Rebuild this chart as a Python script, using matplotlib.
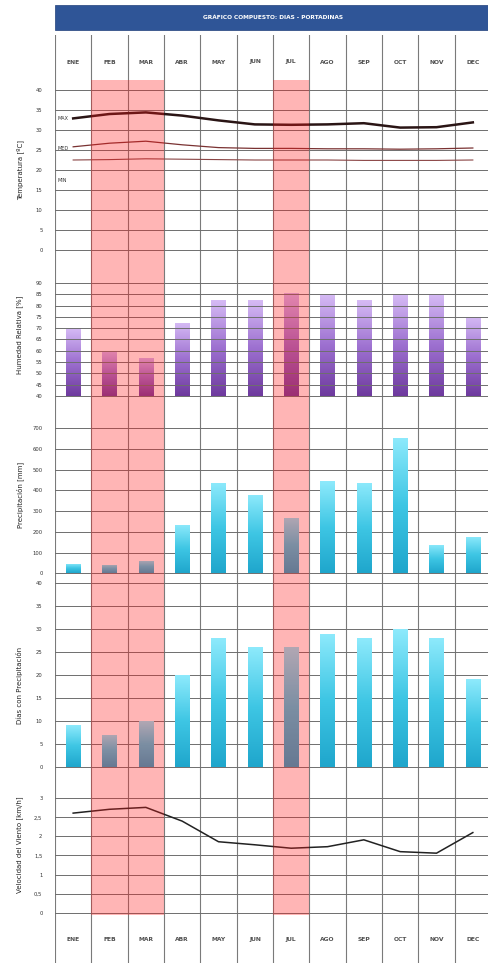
import numpy as np
import matplotlib
matplotlib.use("Agg")
import matplotlib.pyplot as plt
from matplotlib.colors import LinearSegmentedColormap
from matplotlib.patches import Rectangle
from matplotlib.ticker import FuncFormatter

# ---------------- data ----------------
months = ["ENE", "FEB", "MAR", "ABR", "MAY", "JUN", "JUL", "AGO", "SEP", "OCT", "NOV", "DEC"]
temp_max = [32.9, 34.0, 34.4, 33.6, 32.4, 31.4, 31.3, 31.4, 31.7, 30.6, 30.7, 31.9]
temp_med = [25.8, 26.7, 27.2, 26.3, 25.6, 25.4, 25.4, 25.3, 25.3, 25.2, 25.3, 25.5]
temp_min = [22.5, 22.6, 22.8, 22.7, 22.6, 22.5, 22.5, 22.5, 22.4, 22.4, 22.4, 22.5]
humidity = [70, 60, 57, 72.5, 82.5, 82.5, 85.5, 85, 82.5, 85, 85, 75]
precip = [45, 40, 61, 233, 435, 378, 266, 443, 435, 652, 137, 177]
rain_days = [9, 7, 10, 20, 28, 26, 26, 29, 28, 30, 28, 19]
wind = [2.61, 2.71, 2.76, 2.4, 1.86, 1.78, 1.69, 1.73, 1.91, 1.6, 1.56, 2.1]
highlight = ["FEB", "MAR", "JUL"]
title = "GRÁFICO COMPUESTO: DIAS - PORTADINAS"

W, H = 488, 963
fig = plt.figure(figsize=(W / 100, H / 100), dpi=100)
fig.patch.set_facecolor("white")

X0, X1 = 55, 491  # pixel extent of the 12 columns


def fa(y_top, y_bot, x0=X0, x1=X1):
    return [x0 / W, 1 - y_bot / H, (x1 - x0) / W, (y_bot - y_top) / H]


n = len(months)
xc = np.arange(n) + 0.5

# background axis: vertical column lines
bg = fig.add_axes(fa(35, 963), zorder=0)
bg.set_xlim(0, n)
bg.set_ylim(0, 1)
bg.axis("off")
for i in range(n + 1):
    bg.axvline(i, color="#7a7a7a", lw=0.8)

# title bar
fig.patches.append(Rectangle((55 / W, 1 - 30 / H), (W - 55) / W, 25 / H,
                             transform=fig.transFigure, facecolor="#2F5597",
                             edgecolor="#1f3f7a", lw=0.5, zorder=1))
fig.text((55 + 491) / 2 / W, 1 - 17.5 / H, title, color="white", fontsize=4.2,
         fontweight="bold", ha="center", va="center", zorder=2)

# month rows
for ytxt in (62, 939):
    for i, m in enumerate(months):
        fig.text((X0 + (i + 0.5) * (X1 - X0) / n) / W, 1 - ytxt / H, m,
                 fontsize=4.3, fontweight="bold", color="#505050",
                 ha="center", va="center")

grid_kw = dict(color="#6e6e6e", lw=0.7)


def setup(ax, ylim, ticks, fmt=None):
    ax.set_xlim(0, n)
    ax.set_ylim(*ylim)
    ax.set_facecolor("none")
    for s in ax.spines.values():
        s.set_visible(False)
    ax.set_xticks([])
    ax.set_yticks(ticks)
    if fmt:
        ax.yaxis.set_major_formatter(FuncFormatter(fmt))
    ax.tick_params(axis="y", length=0, pad=9, labelsize=3.8, labelcolor="#333333")
    for t in ticks:
        ax.axhline(t, zorder=3, **grid_kw)


def grad_bars(ax, values, cmap, bottom=0.0, width=0.4, z=2):
    bars = ax.bar(xc, np.array(values) - bottom, width=width, bottom=bottom,
                  color="none", edgecolor="none", zorder=z)
    g = np.linspace(0, 1, 256).reshape(-1, 1)
    for b in bars:
        x, y = b.get_x(), b.get_y()
        im = ax.imshow(g, cmap=cmap, origin="lower", aspect="auto", zorder=z,
                       extent=[x, x + b.get_width(), y, y + b.get_height()])
        im.set_clip_path(b)


def ylab(text, ycenter):
    fig.text(20 / W, 1 - ycenter / H, text, rotation=90, fontsize=5,
             ha="center", va="center", color="#222222")


# ---- temperature ----
ax1 = fig.add_axes(fa(80, 268), zorder=2)
setup(ax1, (-4.5, 42.5), np.arange(0, 41, 5))
ax1.plot(xc, temp_max, color="#2a1515", lw=1.8, zorder=4)
ax1.plot(xc, temp_med, color="#7a3232", lw=0.9, zorder=4)
ax1.plot(xc, temp_min, color="#8a4545", lw=0.8, zorder=4)
ax1.text(0.08, 33.0, "MAX", fontsize=3.5, color="#333333", va="center")
ax1.text(0.08, 25.3, "MED", fontsize=3.5, color="#333333", va="center")
ax1.text(0.08, 17.3, "MIN", fontsize=3.5, color="#333333", va="center")
ylab("Temperatura [ºC]", 170)

# ---- humidity ----
hum_cmap = LinearSegmentedColormap.from_list("hum", ["#6e3a9e", "#9d70d0", "#d6bbf5"])
ax2 = fig.add_axes(fa(272, 400), zorder=2)
setup(ax2, (38.2, 94.9), np.arange(40, 91, 5))
grad_bars(ax2, humidity, hum_cmap, bottom=40)
ax2.set_xlim(0, n)
ax2.set_ylim(38.2, 94.9)
ylab("Humedad Relativa [%]", 335)

# ---- precipitation ----
cy_cmap = LinearSegmentedColormap.from_list("cy", ["#1fa6cc", "#3ec6e4", "#8eeafc"])
ax3 = fig.add_axes(fa(410, 576), zorder=2)
setup(ax3, (-13, 788), np.arange(0, 701, 100))
for l in ax3.lines:
    l.set_zorder(1)
grad_bars(ax3, precip, cy_cmap, bottom=0)
ax3.set_xlim(0, n)
ax3.set_ylim(-13, 788)
ylab("Precipitación [mm]", 495)

# ---- rain days ----
ax4 = fig.add_axes(fa(580, 772), zorder=2)
setup(ax4, (-1.15, 40.66), np.arange(0, 41, 5))
for l in ax4.lines:
    l.set_zorder(1)
grad_bars(ax4, rain_days, cy_cmap, bottom=0)
ax4.set_xlim(0, n)
ax4.set_ylim(-1.15, 40.66)
ylab("Días con Precipitación", 685)

# ---- wind ----
ax5 = fig.add_axes(fa(778, 915), zorder=2)
setup(ax5, (-0.06, 3.53), np.arange(0, 3.01, 0.5),
      fmt=lambda v, p: (f"{v:.1f}".rstrip("0").rstrip(".")).replace(".", ","))
ax5.plot(xc, wind, color="#222222", lw=1.1, zorder=4)
ylab("Velocidad del Viento [km/h]", 845)

# ---- red highlight overlay ----
ov = fig.add_axes(fa(80, 915), zorder=10)
ov.set_xlim(0, n)
ov.set_ylim(0, 1)
ov.axis("off")
ov.set_facecolor("none")
for m in highlight:
    i = months.index(m)
    ov.axvspan(i, i + 1, color="#ff1a1a", alpha=0.32, lw=0)

fig.savefig("out.png", dpi=100)
